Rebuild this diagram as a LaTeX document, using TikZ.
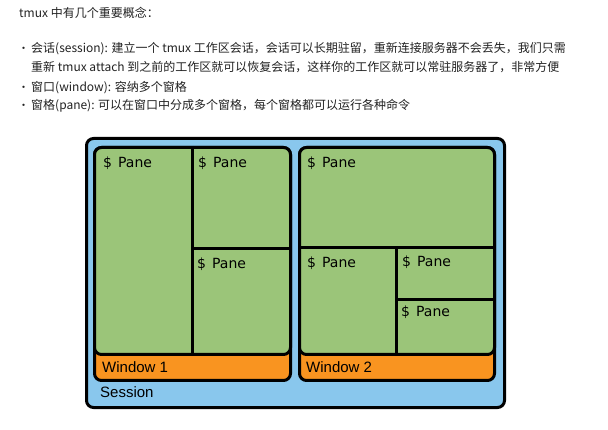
\documentclass[tikz,border=0pt]{standalone}
\usepackage{fontspec}
\newfontfamily\cjk{Noto Sans CJK SC}
\newfontfamily\paneface{DejaVu Sans}
\newfontfamily\labface{Liberation Sans}
\definecolor{sessblue}{RGB}{137,199,237}
\definecolor{panegreen}{RGB}{155,197,121}
\definecolor{winorange}{RGB}{249,148,32}
\definecolor{txtgray}{RGB}{34,34,34}
\begin{document}
\begin{tikzpicture}[x=1pt,y=-1pt,
  box/.style={draw=black,line width=3pt,anchor=north west,inner sep=0pt,rounded corners=7pt},
  divider/.style={draw=black,line width=3pt},
  panelab/.style={anchor=base west,inner sep=0pt,font=\paneface\fontsize{14}{16}\selectfont},
  winlab/.style={anchor=base west,inner sep=0pt,font=\labface\fontsize{15}{17}\selectfont},
  line/.style={anchor=base west,inner sep=0pt,text=txtgray,font=\cjk\fontsize{12}{14}\selectfont},
  bul/.style={anchor=base west,inner sep=0pt,text=txtgray,font=\cjk\fontsize{11}{12}\selectfont}]
\useasboundingbox[fill=white] (0,0) rectangle (608,430);
% intro text
\node[line] (t0) at (19,17.5) {tmux 中有几个重要概念：};
\node[bul] (b1) at (18,52.5) {•};
\node[line] (t1) at (31,52.5) {会话(session): 建立一个 tmux 工作区会话，会话可以长期驻留，重新连接服务器不会丢失，我们只需};
\node[line] (t2) at (31,71.5) {重新 tmux attach 到之前的工作区就可以恢复会话，这样你的工作区就可以常驻服务器了，非常方便};
\node[bul] (b2) at (18,91.5) {•};
\node[line] (t3) at (31,91.5) {窗口(window): 容纳多个窗格};
\node[bul] (b3) at (18,109.5) {•};
\node[line] (t4) at (31,109.5) {窗格(pane): 可以在窗口中分成多个窗格，每个窗格都可以运行各种命令};
% session
\node[box,fill=sessblue,minimum width=418pt,minimum height=269pt] (sess) at (85,137) {};
% window 1
\node[box,fill=winorange,minimum width=196pt,minimum height=233pt] (w1) at (93,146) {};
\node[box,fill=panegreen,minimum width=196pt,minimum height=207pt] (w1p) at (93,146) {};
\draw[divider] (192,146) -- (192,353);
\draw[divider] (192,249) -- (289,249);
% window 2
\node[box,fill=winorange,minimum width=195pt,minimum height=233pt] (w2) at (298,146) {};
\node[box,fill=panegreen,minimum width=195pt,minimum height=207pt] (w2p) at (298,146) {};
\draw[divider] (298,248) -- (493,248);
\draw[divider] (396,248) -- (396,353);
\draw[divider] (396,300) -- (493,300);
% pane labels
\node[panelab] (p1) at (103,168) {\$\hspace{6pt}Pane};
\node[panelab] (p2) at (198,168) {\$\hspace{6pt}Pane};
\node[panelab] (p3) at (197,269) {\$\hspace{6pt}Pane};
\node[panelab] (p4) at (307,168) {\$\hspace{6pt}Pane};
\node[panelab] (p5) at (307,268) {\$\hspace{6pt}Pane};
\node[panelab] (p6) at (402,266.5) {\$\hspace{6pt}Pane};
\node[panelab] (p7) at (401,317) {\$\hspace{6pt}Pane};
% window and session labels
\node[winlab] (l1) at (102,373) {Window 1};
\node[winlab] (l2) at (306,373) {Window 2};
\node[winlab] (ls) at (100,397) {Session};
\end{tikzpicture}
\end{document}
